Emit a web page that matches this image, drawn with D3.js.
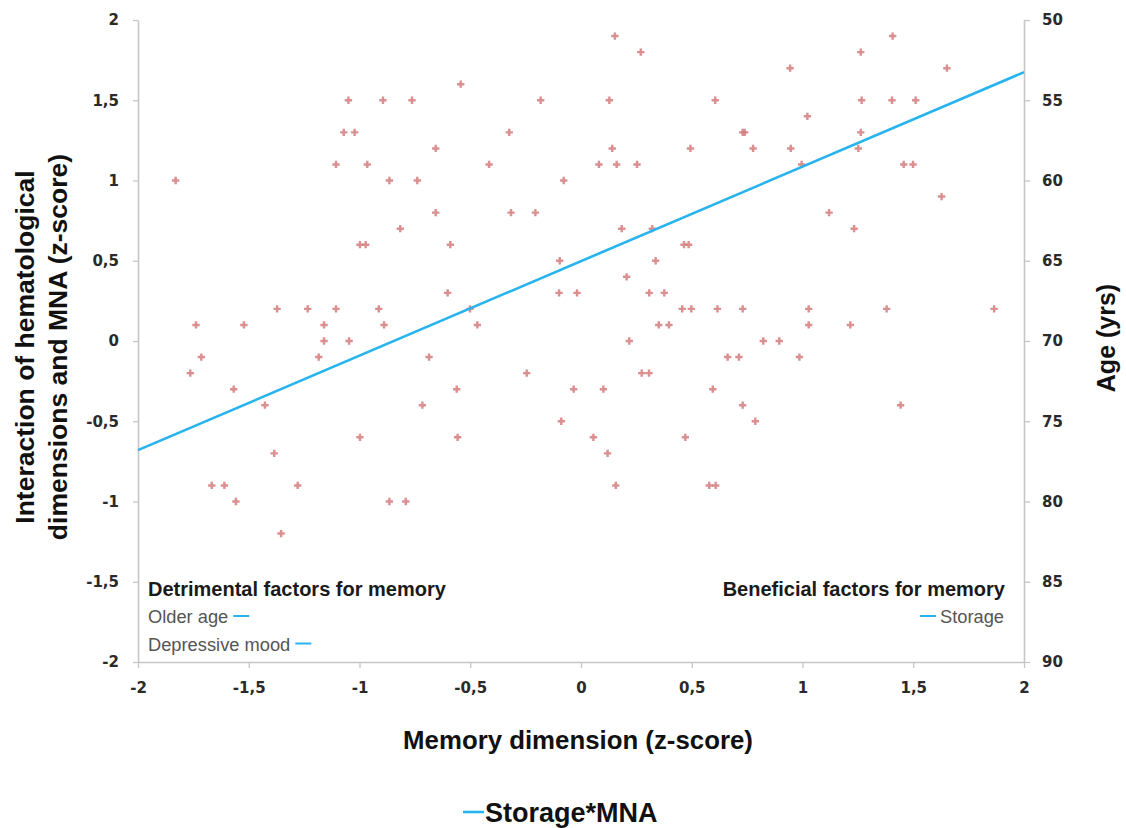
<!DOCTYPE html>
<html>
<head>
<meta charset="utf-8">
<script src="https://cdn.jsdelivr.net/npm/d3@7"></script>
<style>
  html, body { margin: 0; padding: 0; background: #fff; }
  svg { display: block; }
  .tick text { font-family: "DejaVu Sans", sans-serif; font-weight: bold; font-size: 15px; fill: #2a2a2a; }
  .title { font-family: "Liberation Sans", Arial, sans-serif; font-weight: bold; fill: #111; }
  .legend-head { font-family: "Liberation Sans", Arial, sans-serif; font-weight: bold; font-size: 20px; fill: #1a1a1a; }
  .legend-item { font-family: "Liberation Sans", Arial, sans-serif; font-size: 18.3px; fill: #555; }
</style>
</head>
<body>
<script>
// Memory dimension (x, z-score) for each participant
const memoryZ = [
  0.153, 1.407,
  0.27, 1.263,
  0.944, 1.652,
  -0.543,
  -1.05, -0.894, -0.763, -0.182, 0.128, 0.606, 1.267, 1.404, 1.511,
  1.022,
  -1.071, -1.022, -0.324, 0.73, 0.739, 1.263,
  -0.656, 0.141, 0.494, 0.777, 0.947, 1.252,
  -1.106, -0.965, -0.415, 0.081, 0.161, 0.253, 0.996, 1.457, 1.499,
  -1.83, -0.865, -0.739, -0.078,
  1.628,
  -0.656, -0.316, -0.206, 1.12,
  -0.816, 0.184, 0.322, 1.233,
  -0.998, -0.972, -0.59, 0.465, 0.486,
  -0.096, 0.337,
  0.206,
  -0.602, -0.099, -0.018, 0.308, 0.376,
  -1.372, -1.234, -1.106, -0.913, -0.501, 0.457, 0.498, 0.616, 0.73, 1.028, 1.38, 1.865,
  -1.738, -1.522, -1.16, -0.889, -0.468, 0.351, 0.397, 1.028, 1.216,
  -1.16, -1.047, 0.218, 0.823, 0.895,
  -1.714, -1.184, -0.686, 0.662, 0.713, 0.986,
  -1.764, -0.245, 0.274, 0.307,
  -1.568, -0.561, -0.033, 0.101, 0.595,
  -1.427, -0.716, 0.73, 1.443,
  -0.089, 0.787,
  -0.998, -0.557, 0.056, 0.471,
  -1.385, 0.12,
  -1.667, -1.61, -1.279, 0.157, 0.579, 0.608,
  -1.558, -0.865, -0.791,
  -1.354
];

// Interaction of hematological dimensions and MNA (y, z-score), same order
const interactionZ = [
  1.9, 1.9,
  1.8, 1.8,
  1.7, 1.7,
  1.6,
  1.5, 1.5, 1.5, 1.5, 1.5, 1.5, 1.5, 1.5, 1.5,
  1.4,
  1.3, 1.3, 1.3, 1.3, 1.3, 1.3,
  1.2, 1.2, 1.2, 1.2, 1.2, 1.2,
  1.1, 1.1, 1.1, 1.1, 1.1, 1.1, 1.1, 1.1, 1.1,
  1.0, 1.0, 1.0, 1.0,
  0.9,
  0.8, 0.8, 0.8, 0.8,
  0.7, 0.7, 0.7, 0.7,
  0.6, 0.6, 0.6, 0.6, 0.6,
  0.5, 0.5,
  0.4,
  0.3, 0.3, 0.3, 0.3, 0.3,
  0.2, 0.2, 0.2, 0.2, 0.2, 0.2, 0.2, 0.2, 0.2, 0.2, 0.2, 0.2,
  0.1, 0.1, 0.1, 0.1, 0.1, 0.1, 0.1, 0.1, 0.1,
  0, 0, 0, 0, 0,
  -0.1, -0.1, -0.1, -0.1, -0.1, -0.1,
  -0.2, -0.2, -0.2, -0.2,
  -0.3, -0.3, -0.3, -0.3, -0.3,
  -0.4, -0.4, -0.4, -0.4,
  -0.5, -0.5,
  -0.6, -0.6, -0.6, -0.6,
  -0.7, -0.7,
  -0.9, -0.9, -0.9, -0.9, -0.9, -0.9,
  -1.0, -1.0, -1.0,
  -1.2
];

// Fitted Storage*MNA line (end points across the memory range)
const fitX = [-2, 2];
const fitY = [-0.68, 1.675];

// Axis ticks
const xTicks = [-2, -1.5, -1, -0.5, 0, 0.5, 1, 1.5, 2];
const yTicks = [-2, -1.5, -1, -0.5, 0, 0.5, 1, 1.5, 2];
const ageTicks = [50, 55, 60, 65, 70, 75, 80, 85, 90];

const detrimentalItems = ["Older age", "Depressive mood"];
const beneficialItems = ["Storage"];

const W = 1126, H = 828;
const plotL = 138, plotR = 1024, plotT = 20, plotB = 662;
const lineColor = "#27b4ee";
const pointColor = "#d47c7c";
const axisColor = "#c6c6c6";

const svg = d3.select("body").append("svg").attr("width", W).attr("height", H);

const x = d3.scaleLinear().domain([-2, 2]).range([plotL, plotR]);
const y = d3.scaleLinear().domain([-2, 2]).range([plotB, plotT]);
const age = d3.scaleLinear().domain([90, 50]).range([plotB, plotT]);

// Decimal comma and a plain hyphen for negatives
const comma = d3.formatLocale({ decimal: ",", thousands: ".", grouping: [3], currency: ["", ""], minus: "-" }).format("~g");

function styleAxis(g) {
  g.select(".domain").attr("stroke", axisColor).attr("stroke-width", 1.6);
  g.selectAll(".tick line").attr("stroke", axisColor).attr("stroke-width", 1.3);
}

svg.append("g").attr("transform", `translate(0,${plotB})`)
  .call(d3.axisBottom(x).tickValues(xTicks).tickFormat(comma).tickSize(6).tickPadding(14).tickSizeOuter(0))
  .call(styleAxis);

svg.append("g").attr("transform", `translate(${plotL},0)`)
  .call(d3.axisLeft(y).tickValues(yTicks).tickFormat(comma).tickSize(5).tickPadding(14).tickSizeOuter(0))
  .call(styleAxis);

svg.append("g").attr("transform", `translate(${plotR},0)`)
  .call(d3.axisRight(age).tickValues(ageTicks).tickSize(6).tickPadding(12).tickSizeOuter(0))
  .call(styleAxis);

// Scatter points
const pts = memoryZ.map((v, i) => ({ m: v, h: interactionZ[i] }));
svg.append("g").selectAll("path")
  .data(pts)
  .join("path")
  .attr("d", d3.symbol(d3.symbolCross, 30))
  .attr("transform", d => `translate(${x(d.m)},${y(d.h)})`)
  .attr("fill", pointColor)
  .attr("opacity", 0.85);

// Fitted line
svg.append("path")
  .datum(fitX.map((v, i) => [v, fitY[i]]))
  .attr("d", d3.line().x(d => x(d[0])).y(d => y(d[1])))
  .attr("fill", "none")
  .attr("stroke", lineColor)
  .attr("stroke-width", 2.6);

// Axis titles
svg.append("text").attr("class", "title")
  .attr("x", (plotL + plotR) / 2 - 3).attr("y", 749)
  .attr("text-anchor", "middle").attr("font-size", 25.8)
  .text("Memory dimension (z-score)");

const yTitle = svg.append("text").attr("class", "title")
  .attr("transform", "translate(0,347) rotate(-90)")
  .attr("text-anchor", "middle").attr("font-size", 26.5);
yTitle.append("tspan").attr("x", 0).attr("y", 34).text("Interaction of hematological");
yTitle.append("tspan").attr("x", 0).attr("y", 67).text("dimensions and MNA (z-score)");

svg.append("text").attr("class", "title")
  .attr("transform", "translate(1115,338) rotate(-90)")
  .attr("text-anchor", "middle").attr("font-size", 25)
  .text("Age (yrs)");

// Left legend block
svg.append("text").attr("class", "legend-head")
  .attr("x", 148).attr("y", 596).text("Detrimental factors for memory");
detrimentalItems.forEach((label, i) => {
  const yy = 623 + i * 27.5;
  const t = svg.append("text").attr("class", "legend-item")
    .attr("x", 148).attr("y", yy).text(label);
  const w = t.node().getComputedTextLength();
  svg.append("line")
    .attr("x1", 148 + w + 5).attr("x2", 148 + w + 21)
    .attr("y1", yy - 7).attr("y2", yy - 7)
    .attr("stroke", lineColor).attr("stroke-width", 2);
});

// Right legend block
svg.append("text").attr("class", "legend-head")
  .attr("x", 1005).attr("y", 596).attr("text-anchor", "end").text("Beneficial factors for memory");
beneficialItems.forEach((label, i) => {
  const yy = 623 + i * 27.5;
  const t = svg.append("text").attr("class", "legend-item")
    .attr("x", 1004).attr("y", yy).attr("text-anchor", "end").text(label);
  const w = t.node().getComputedTextLength();
  svg.append("line")
    .attr("x1", 1004 - w - 20).attr("x2", 1004 - w - 4)
    .attr("y1", yy - 7).attr("y2", yy - 7)
    .attr("stroke", lineColor).attr("stroke-width", 2);
});

// Bottom series legend
svg.append("line")
  .attr("x1", 463).attr("x2", 484).attr("y1", 812).attr("y2", 812)
  .attr("stroke", lineColor).attr("stroke-width", 2.6);
svg.append("text").attr("class", "title")
  .attr("x", 485).attr("y", 822).attr("font-size", 27)
  .text("Storage*MNA");
</script>
</body>
</html>
